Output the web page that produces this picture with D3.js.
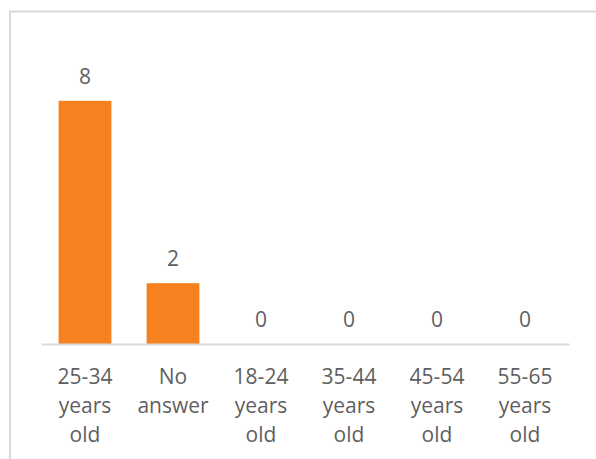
<!DOCTYPE html>
<html>
<head>
<meta charset="utf-8">
<script src="https://cdn.jsdelivr.net/npm/d3@7"></script>
<style>
  html, body { margin: 0; padding: 0; background: #fff; }
  svg { display: block; }
</style>
</head>
<body>
<svg id="chart" width="596" height="459"></svg>
<script>
// Age groups and respondent counts
const categories = ["25-34 years old", "No answer", "18-24 years old", "35-44 years old", "45-54 years old", "55-65 years old"];
const categoryLines = [["25-34", "years", "old"], ["No", "answer"], ["18-24", "years", "old"], ["35-44", "years", "old"], ["45-54", "years", "old"], ["55-65", "years", "old"]];
const counts = [8, 2, 0, 0, 0, 0];
const yDomain = [0, 10];

const svg = d3.select("#chart");
const W = 596, H = 459;
const font = "'Open Sans', 'Liberation Sans', sans-serif";
const fontSize = 21;
const textColor = "#5f5f5f";

// outer chart frame (runs past the right and bottom edges)
svg.append("rect")
  .attr("x", 10).attr("y", 11.5)
  .attr("width", W + 10).attr("height", H + 10)
  .attr("fill", "#fff")
  .attr("stroke", "#d9d9d9")
  .attr("stroke-width", 2);

const plot = { left: 41, right: 569, top: 40, bottom: 344 };

const x = d3.scaleBand()
  .domain(categories)
  .range([plot.left, plot.right])
  .paddingInner(0.4)
  .paddingOuter(0.2);

const y = d3.scaleLinear()
  .domain(yDomain)
  .range([plot.bottom, plot.top]);

// bars
svg.append("g").selectAll("rect")
  .data(categories)
  .join("rect")
  .attr("x", d => x(d))
  .attr("y", (d, i) => y(counts[i]))
  .attr("width", x.bandwidth())
  .attr("height", (d, i) => y(0) - y(counts[i]))
  .attr("fill", "#f5821f");

// value labels
svg.append("g").selectAll("text")
  .data(categories)
  .join("text")
  .attr("x", d => x(d) + x.bandwidth() / 2)
  .attr("y", (d, i) => y(counts[i]) - 17)
  .attr("text-anchor", "middle")
  .attr("font-family", font)
  .attr("font-size", fontSize)
  .attr("fill", textColor)
  .text((d, i) => counts[i]);

// category axis
const axis = svg.append("g")
  .attr("transform", `translate(0,${plot.bottom})`)
  .call(d3.axisBottom(x).tickSize(0).tickSizeOuter(0));
axis.select(".domain").attr("stroke", "#d9d9d9").attr("stroke-width", 2);
axis.selectAll(".tick text").remove();
axis.selectAll(".tick").each(function (d, i) {
  const t = d3.select(this).append("text")
    .attr("text-anchor", "middle")
    .attr("font-family", font)
    .attr("font-size", fontSize)
    .attr("fill", textColor);
  categoryLines[i].forEach((line, j) => {
    t.append("tspan").attr("x", 0).attr("y", 40 + j * 29).text(line);
  });
});
</script>
</body>
</html>
